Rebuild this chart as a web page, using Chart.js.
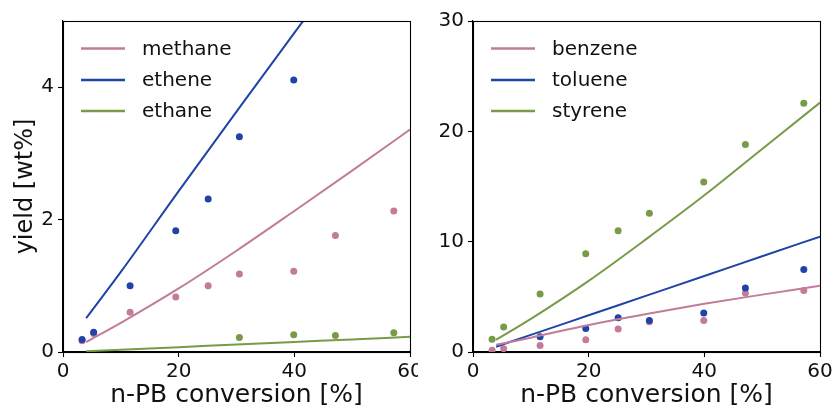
<!DOCTYPE html>
<html>
<head>
<meta charset="utf-8">
<script src="https://cdn.jsdelivr.net/npm/chart.js@4/dist/chart.umd.min.js"></script>
<style>
html,body{margin:0;padding:0;background:#fff;}
#wrap{position:relative;width:836px;height:408px;overflow:hidden;}
canvas{position:absolute;top:0;}
</style>
</head>
<body>
<div id="wrap">
<canvas id="c1" width="418" height="408" style="left:0"></canvas>
<canvas id="c2" width="418" height="408" style="left:418px"></canvas>
</div>
<script>
// ---- data ----
const conversion = [3.3, 5.3, 11.6, 19.5, 25.1, 30.5, 39.9, 47.1, 57.2];
const methanePts = [0.17, 0.28, 0.60, 0.83, 1.00, 1.18, 1.22, 1.76, 2.13];
const ethenePts  = [0.19, 0.30, 1.00, 1.83, 2.31, 3.25, 4.11, null, null];
const ethanePts  = [null, null, null, null, null, 0.22, 0.26, 0.25, 0.29];
const benzenePts = [0.15, 0.30, 0.60, 1.10, 2.08, 2.74, 2.86, 5.34, 5.58];
const toluenePts = [null, null, 1.39, 2.14, 3.10, 2.86, 3.53, 5.79, 7.48];
const styrenePts = [1.15, 2.26, 5.25, 8.90, 11.00, 12.57, 15.40, 18.80, 22.55];

const fitX = [4, 10, 20, 30, 40, 50, 60];
const methaneFit = [0.15, 0.44, 0.96, 1.53, 2.13, 2.74, 3.36];
const etheneFit  = [0.51, 1.21, 2.43, 3.63, 4.82, 6.00, 7.20];
const ethaneFit  = [0.01, 0.034, 0.073, 0.113, 0.152, 0.19, 0.23];
const benzeneFit = [0.65, 1.30, 2.45, 3.45, 4.37, 5.20, 6.00];
const tolueneFit = [0.48, 1.55, 3.33, 5.11, 6.89, 8.68, 10.46];
const styreneFit = [1.10, 3.00, 6.45, 10.25, 14.20, 18.40, 22.60];

const xTicks = [0, 20, 40, 60];
const yTicksLeft = [0, 2, 4];
const yTicksRight = [0, 10, 20, 30];
const leftLabels = ['methane', 'ethene', 'ethane'];
const rightLabels = ['benzene', 'toluene', 'styrene'];

const PINK = '#c27b9b', BLUE = '#1f44a6', GREEN = '#789b48';
const FONT = 'DejaVu Sans';

function pts(xs, ys){ const out=[]; xs.forEach((x,i)=>{ if(ys[i]!==null) out.push({x:x,y:ys[i]}); }); return out; }

function lineDs(label, ys, color){
  return {type:'scatter', label:label, data:pts(fitX, ys), showLine:true, borderColor:color, backgroundColor:color,
    borderWidth:2, pointRadius:0, pointHoverRadius:0, cubicInterpolationMode:'monotone', fill:false, isFit:true, order:1};
}
function dotDs(label, ys, color, ord){
  return {type:'scatter', label:label+'_pts', data:pts(conversion, ys), showLine:false, borderColor:color, backgroundColor:color,
    pointRadius:3.5, pointBorderWidth:0, isFit:false, order:ord};
}

const framePlugin = {
  id:'frame',
  afterDatasetsDraw(chart){
    const a = chart.chartArea, ctx = chart.ctx;
    ctx.save();
    ctx.strokeStyle = '#000'; ctx.lineWidth = 1.1;
    ctx.strokeRect(Math.round(a.left)+0.5, Math.round(a.top)+0.5, Math.round(a.right-a.left), Math.round(a.bottom-a.top));
    // legend
    const fits = chart.data.datasets.filter(d=>d.isFit);
    ctx.font = '20px "' + FONT + '"';
    ctx.textBaseline = 'middle';
    ctx.fillStyle = '#111';
    const offs = [27.5, 59, 90];
    fits.forEach((d,i)=>{
      const y = a.top + offs[i];
      ctx.strokeStyle = d.borderColor; ctx.lineWidth = 2.6;
      ctx.beginPath(); ctx.moveTo(a.left+18, y); ctx.lineTo(a.left+62, y); ctx.stroke();
      ctx.fillText(d.label, a.left+79, y+1);
    });
    ctx.restore();
  }
};

function makeChart(id, datasets, yMax, yTicks, yTitle, leftW, padRight){
  return new Chart(document.getElementById(id), {
    type:'scatter',
    data:{datasets:datasets},
    options:{
      responsive:false, animation:false,
      layout:{padding:{top:21, right:padRight, left:0, bottom:0}},
      plugins:{legend:{display:false}, tooltip:{enabled:false}},
      scales:{
        x:{type:'linear', min:0, max:60,
          afterBuildTicks(s){ s.ticks = xTicks.map(v=>({value:v})); },
          afterFit(s){ s.height = 56; s.paddingLeft = 0; s.paddingRight = 0; },
          grid:{display:true, drawOnChartArea:false, drawTicks:true, tickLength:5, color:'#000', tickWidth:1.1},
          border:{display:true, color:'#000', width:1.1},
          ticks:{font:{family:FONT, size:20}, color:'#111', padding:3, maxRotation:0, autoSkip:false},
          title:{display:true, text:'n-PB conversion [%]', font:{family:FONT, size:25, lineHeight:1}, color:'#111', padding:{top:0, bottom:0}}
        },
        y:{type:'linear', min:0, max:yMax,
          afterBuildTicks(s){ s.ticks = yTicks.map(v=>({value:v})); },
          afterFit(s){ s.width = leftW; s.paddingTop = 0; s.paddingBottom = 0; },
          grid:{display:true, drawOnChartArea:false, drawTicks:true, tickLength:5, color:'#000', tickWidth:1.1},
          border:{display:true, color:'#000', width:1.1},
          ticks:{font:{family:FONT, size:20}, color:'#111', padding:4, autoSkip:false},
          title:{display: !!yTitle, text:yTitle || '', font:{family:FONT, size:24, lineHeight:1}, color:'#111', padding:{top:14, bottom:0}}
        }
      }
    },
    plugins:[framePlugin]
  });
}

makeChart('c1', [
  lineDs(leftLabels[0], methaneFit, PINK),
  lineDs(leftLabels[1], etheneFit, BLUE),
  lineDs(leftLabels[2], ethaneFit, GREEN),
  dotDs(leftLabels[0], methanePts, PINK, 4),
  dotDs(leftLabels[1], ethenePts, BLUE, 3),
  dotDs(leftLabels[2], ethanePts, GREEN, 2)
], 5, yTicksLeft, 'yield [wt%]', 63, 8);

makeChart('c2', [
  lineDs(rightLabels[0], benzeneFit, PINK),
  lineDs(rightLabels[1], tolueneFit, BLUE),
  lineDs(rightLabels[2], styreneFit, GREEN),
  dotDs(rightLabels[0], benzenePts, PINK, 4),
  dotDs(rightLabels[1], toluenePts, BLUE, 3),
  dotDs(rightLabels[2], styrenePts, GREEN, 2)
], 30, yTicksRight, '', 55, 16);
</script>
</body>
</html>
